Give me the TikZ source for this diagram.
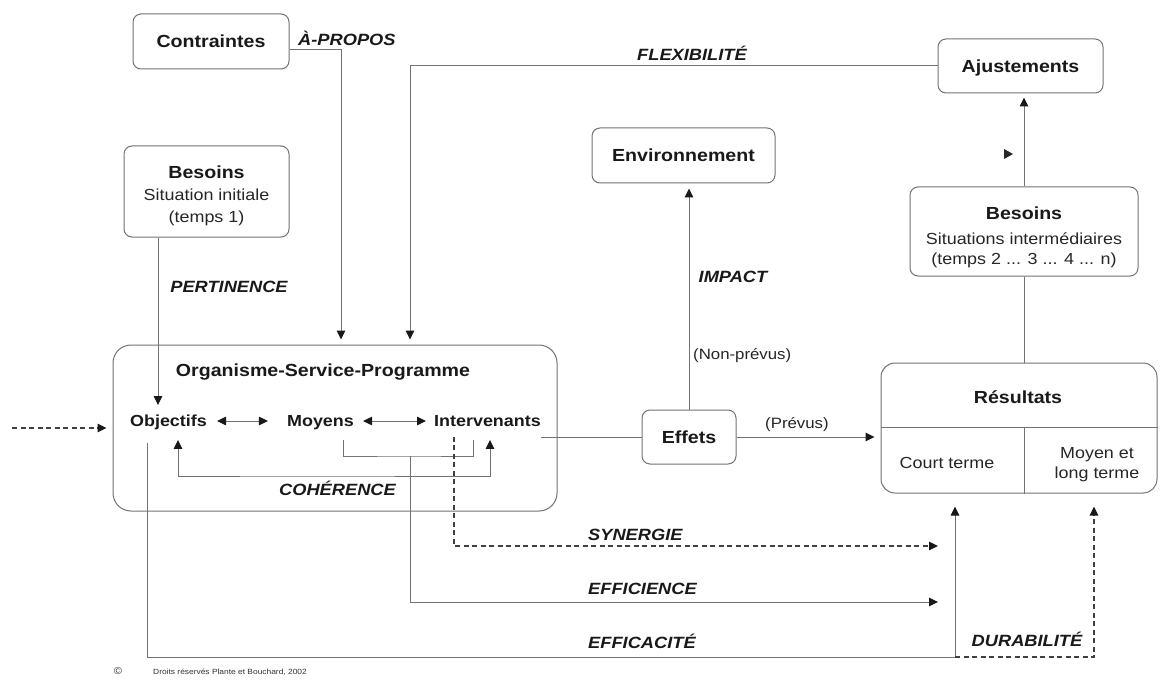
\documentclass[tikz,border=0pt]{standalone}
\usepackage{fontspec}
\setmainfont[FakeStretch=1.12]{Liberation Sans}
\usetikzlibrary{arrows.meta}
\tikzset{
  box/.style={draw=black!55, line width=1pt, rounded corners=8pt, fill=white, inner sep=0pt},
  ttl/.style={font=\fontsize{17.5}{20}\selectfont\bfseries, text=black!90, inner sep=0pt, text height=12.6pt, text depth=0pt},
  itm/.style={font=\fontsize{16}{19}\selectfont\bfseries, text=black!90, inner sep=0pt, text height=11.5pt, text depth=0pt},
  reg/.style={font=\fontsize{16}{19}\selectfont, text=black!85, inner sep=0pt, text height=11.5pt, text depth=0pt},
  crit/.style={font=\fontsize{16.3}{19}\selectfont\bfseries\itshape, text=black!90, inner sep=0pt, text height=11.7pt, text depth=0pt},
  sml/.style={font=\fontsize{15}{18}\selectfont, text=black!85, inner sep=0pt, text height=10.8pt, text depth=0pt},
  tiny/.style={font=\fontsize{7.5}{9}\selectfont, text=black!80, inner sep=0pt},
  conn/.style={draw=black!55, line width=1pt},
  arr/.style={conn, -{Triangle[length=9pt,width=8.5pt,color=black!90]}},
  darr/.style={arr, draw=black!75, line width=1.3pt, dash pattern=on 5pt off 3.5pt},
  dbl/.style={conn, {Triangle[length=9pt,width=8.5pt,color=black!90]}-{Triangle[length=9pt,width=8.5pt,color=black!90]}},
}
\begin{document}
\begin{tikzpicture}[x=1pt,y=-1pt]
\useasboundingbox[fill=white] (0,0) rectangle (1161,687);

% boxes
\node[box, minimum width=156pt, minimum height=55pt] (contr) at (211,41.5) {};
\node[ttl] (contrT) at (contr) {Contraintes};
\node[box, minimum width=165pt, minimum height=91pt] (bes1) at (206.5,191.5) {};
\node[ttl] (bes1a) at (206.5,172) {Besoins};
\node[reg] (bes1b) at (206.5,195) {Situation initiale};
\node[reg] (bes1c) at (206.5,217) {(temps 1)};
\node[box, minimum width=183pt, minimum height=55pt] (env) at (683.5,155.5) {};
\node[ttl] (envT) at (env) {Environnement};
\node[box, minimum width=165pt, minimum height=54pt] (ajust) at (1020.5,66) {};
\node[ttl] (ajustT) at (ajust) {Ajustements};
\node[box, minimum width=228pt, minimum height=89pt] (bes2) at (1024,231.5) {};
\node[ttl] (bes2a) at (1024,213) {Besoins};
\node[reg] (bes2b) at (1024,239) {Situations intermédiaires};
\node[reg] (bes2c) at (1024,259) {(temps 2 ... 3 ... 4 ... n)};
\node[box, rounded corners=18pt, minimum width=444pt, minimum height=166pt] (org) at (335,428) {};
\node[ttl] (orgT) at (323,370) {Organisme-Service-Programme};
\node[itm] (obj) at (168.5,421) {Objectifs};
\node[itm] (moy) at (320.5,421) {Moyens};
\node[itm] (int) at (487.5,421) {Intervenants};
\node[box, minimum width=94pt, minimum height=54pt] (effets) at (689,437) {};
\node[ttl] (effetsT) at (effets) {Effets};
\node[box, rounded corners=14pt, minimum width=276pt, minimum height=130pt] (res) at (1019,428) {};
\node[ttl] (resT) at (1018,397) {Résultats};
\node[reg] (court) at (947,463) {Court terme};
\node[reg] (moyl1) at (1097,453) {Moyen et};
\node[reg] (moyl2) at (1097,473) {long terme};
\coordinate (rdv) at (1024,427);
\draw[conn] (res.west |- rdv) -- (res.east |- rdv);
\draw[conn] (rdv) -- (res.south -| rdv);

% helper coordinates
\coordinate (apx) at (341,50);
\coordinate (flx) at (410,0);
\coordinate (p158) at (158,0);
\coordinate (cL) at (178,0);
\coordinate (cR) at (490,0);
\coordinate (cohY) at (300,476);
\coordinate (brL) at (343,0);
\coordinate (brR) at (473,0);
\coordinate (brM) at (410,456);
\coordinate (effT) at (938,602);
\coordinate (syX) at (454,0);
\coordinate (synT) at (938,546);
\coordinate (efX) at (147,0);
\coordinate (effBot) at (955,657);
\coordinate (durX) at (1094,0);
\coordinate (src) at (12,428);

% connectors
\draw[arr, shorten >=5pt] (contr.east |- apx) -| (org.north -| apx);
\draw[arr, shorten >=5pt] (ajust.west) -| (org.north -| flx);
\draw[arr, shorten >=10pt] (bes1.south -| p158) -- (obj.north -| p158);
\draw[dbl, shorten <=10pt, shorten >=19pt] (obj.east) -- (moy.west);
\draw[dbl, shorten <=9pt, shorten >=8pt] (moy.east) -- (int.west);
\draw[dbl, shorten <=13pt, shorten >=13pt] (obj.south -| cL) |- (cohY) -| (int.south -| cR);
\draw[conn] ([yshift=-13pt]moy.south -| brL) |- (brM) -| ([yshift=-13pt]int.south -| brR);
\draw[arr] (brM) |- (effT);
\draw[darr] ([yshift=-10pt]int.south -| syX) |- (synT);
\draw[arr, shorten >=13pt] ([yshift=-16pt]obj.south -| efX) |- (effBot) -- (res.south -| effBot);
\draw[darr, shorten >=13pt] (effBot) -| (res.south -| durX);
\draw[conn] (int.east |- effets.west) -- (effets.west);
\draw[arr, shorten >=6pt] (effets.east) -- (effets.east -| res.west);
\draw[arr, shorten >=5pt] (effets.north) -- (effets.north |- env.south);
\draw[conn] (bes2.south) -- (bes2.south |- res.north);
\draw[arr, shorten >=4pt] (bes2.north) -- (bes2.north |- ajust.south);
\draw[darr, shorten >=6pt] (src) -- (org.west);
\fill[black!85] (1004,149) -- (1013,154) -- (1004,159) -- cycle;

% labels
\node[crit, anchor=west] (lapropos) at (298,40) {À-PROPOS};
\node[crit] (lflex) at (692,55) {FLEXIBILITÉ};
\node[crit] (lpert) at (229,287) {PERTINENCE};
\node[crit] (limpact) at (733,277) {IMPACT};
\node[crit] (lcoh) at (337.5,490) {COHÉRENCE};
\node[crit, anchor=west] (lsyn) at (588,535) {SYNERGIE};
\node[crit, anchor=west] (leffn) at (588,589) {EFFICIENCE};
\node[crit, anchor=west] (leffc) at (588,643) {EFFICACITÉ};
\node[crit] (ldur) at (1027,641) {DURABILITÉ};
\node[sml, anchor=west] (lnonp) at (693,354) {(Non-prévus)};
\node[sml, anchor=west] (lprev) at (765,423) {(Prévus)};
\node[tiny, font=\fontsize{10}{12}\selectfont] (copy) at (118,671) {©};
\node[tiny, anchor=west] (droits) at (153,672) {Droits réservés Plante et Bouchard, 2002};
\end{tikzpicture}
\end{document}
